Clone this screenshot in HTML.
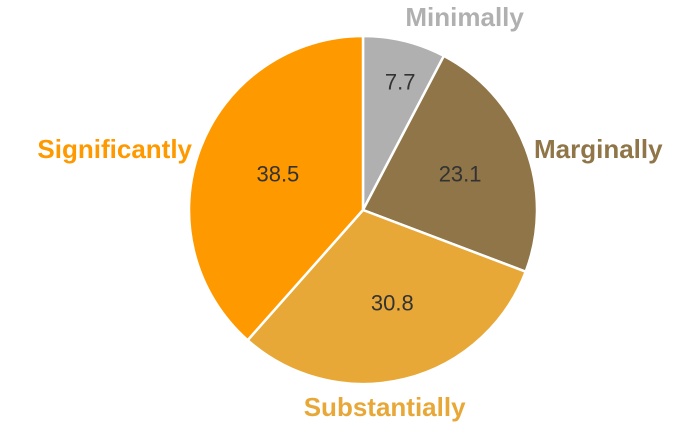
<!DOCTYPE html>
<html><head><meta charset="utf-8"><style>
html,body{margin:0;padding:0;background:#fff;}
svg{display:block;font-family:"Liberation Sans",sans-serif;}
</style></head><body>
<svg id="chart" width="700" height="434" viewBox="0 0 700 434"></svg>
<script>
const categories=["Minimally","Marginally","Substantially","Significantly"];
const values=[7.7,23.1,30.8,38.5];
const valueLabels=["7.7","23.1","30.8","38.5"];
const colors=["#b0b0b0","#8f7548","#e8a838","#ff9900"];
const svg=document.getElementById('chart');
const NS="http://www.w3.org/2000/svg";
const cx=363,cy=210,r=174;
const total=values.reduce((a,b)=>a+b,0);
function pt(a,rad){return [cx+rad*Math.sin(a),cy-rad*Math.cos(a)];}
let acc=0;
values.forEach((v,i)=>{
  const a0=acc/total*2*Math.PI; acc+=v; const a1=acc/total*2*Math.PI;
  const p0=pt(a0,r),p1=pt(a1,r);
  const large=(a1-a0)>Math.PI?1:0;
  const path=document.createElementNS(NS,'path');
  path.setAttribute('d',`M${cx},${cy}L${p0[0]},${p0[1]}A${r},${r} 0 ${large} 1 ${p1[0]},${p1[1]}Z`);
  path.setAttribute('fill',colors[i]);
  path.setAttribute('stroke','#fff');
  path.setAttribute('stroke-width','2.5');
  
  
  svg.appendChild(path);
  const am=(a0+a1)/2;
  const ip=pt(am,r*(v<10?0.75:0.56));
  const t=document.createElementNS(NS,'text');
  t.setAttribute('x',ip[0]+6);t.setAttribute('y',ip[1]+6);
  t.setAttribute('text-anchor','middle');t.setAttribute('font-size','22');t.setAttribute('fill','#333');
  t.textContent=valueLabels[i];
  
  
  svg.appendChild(t);
  const s=Math.sin(am), c=Math.cos(am);
  let anchor, ox, oy;
  if(Math.abs(s)<0.5){anchor='middle'; const op=pt(am,r); ox=op[0]+(c>0?60:-20); oy=c>0?26:416;}
  else {anchor=s>0?'start':'end'; ox=s>0?cx+r-3:cx-r+3; oy=158;}
  const l=document.createElementNS(NS,'text');
  l.setAttribute('x',ox);l.setAttribute('y',oy);
  l.setAttribute('text-anchor',anchor);l.setAttribute('font-size','26');l.setAttribute('font-weight','bold');
  l.setAttribute('fill',colors[i]);
  l.textContent=categories[i];
  
  
  svg.appendChild(l);
});
</script>
</body></html>
